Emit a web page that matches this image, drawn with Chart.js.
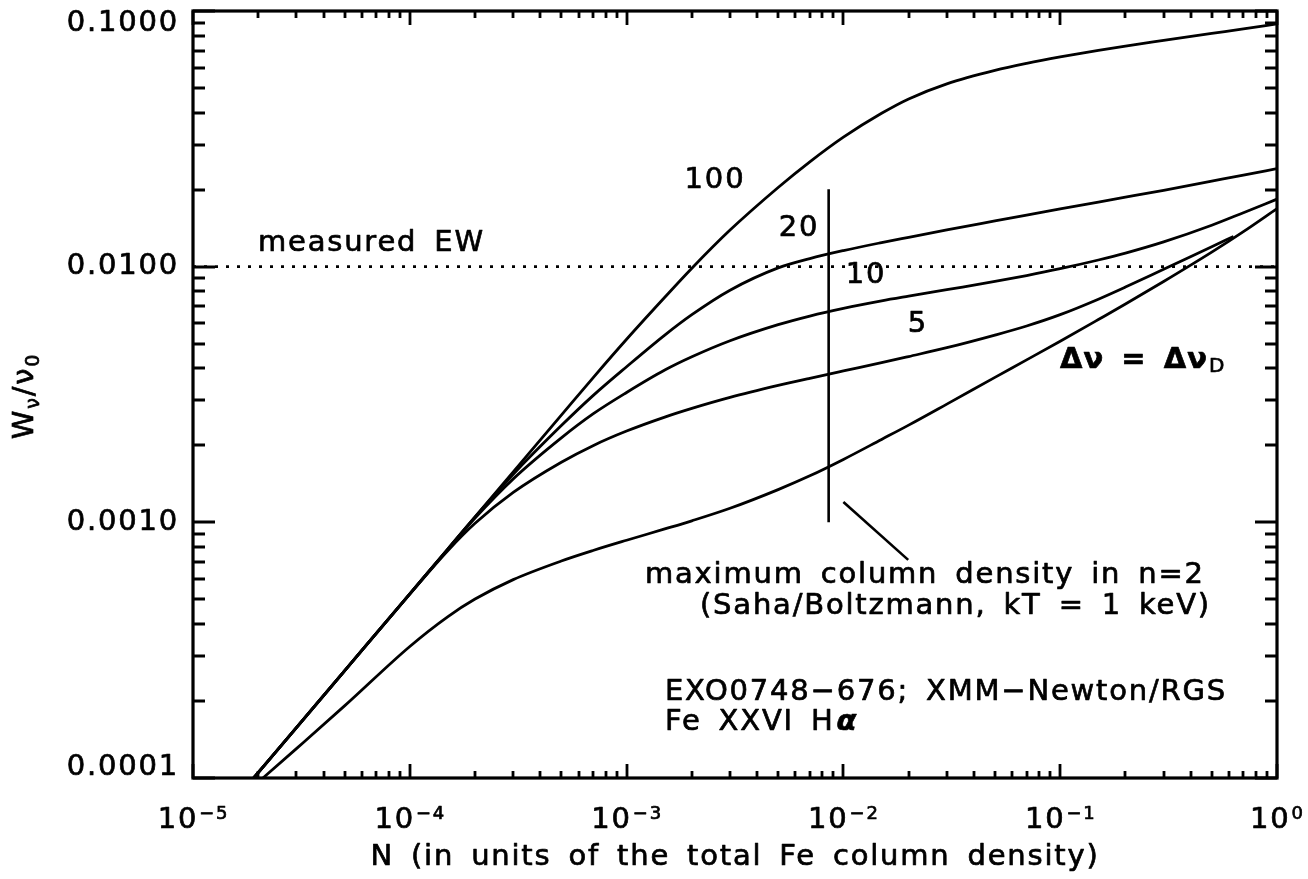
<!DOCTYPE html>
<html>
<head>
<meta charset="utf-8">
<script src="https://cdn.jsdelivr.net/npm/chart.js@4.4.0/dist/chart.umd.min.js"></script>
<style>
html, body { margin: 0; padding: 0; background: #fff; }
#wrap { width: 1308px; height: 879px; }
</style>
</head>
<body>
<div id="wrap"><canvas id="cog" width="1308" height="879"></canvas></div>
<script>
// column density N (units of the total Fe column density)
const nGrid = [1.9e-5, 3e-5, 5e-5, 1e-4, 1.5e-4, 2e-4, 3e-4, 5e-4, 7e-4, 1e-3, 1.5e-3, 2e-3, 3e-3, 5e-3, 7e-3,
  1e-2, 1.5e-2, 2e-2, 3e-2, 5e-2, 7e-2, 0.1, 0.15, 0.2, 0.3, 0.5, 0.7, 1.0];

// equivalent width W/nu0, one curve per line width (100, 20, 10, 5 and pure Doppler)
const w100 = [9.98e-5, 1.575e-4, 2.625e-4, 5.25e-4, 7.88e-4, 1.05e-3, 1.575e-3, 2.625e-3, 3.675e-3, 5.2e-3,
  7.59e-3, 9.86e-3, 1.39e-2, 2.04e-2, 2.57e-2, 3.21e-2, 3.98e-2, 4.53e-2, 5.19e-2, 5.86e-2, 6.24e-2, 6.61e-2,
  7.01e-2, 7.29e-2, 7.67e-2, 8.17e-2, 8.51e-2, 8.91e-2];
const w20 = [9.98e-5, 1.575e-4, 2.625e-4, 5.25e-4, 7.88e-4, 1.05e-3, 1.542e-3, 2.39e-3, 3.13e-3, 4.06e-3,
  5.40e-3, 6.49e-3, 8.09e-3, 9.89e-3, 1.076e-2, 1.156e-2, 1.242e-2, 1.303e-2, 1.393e-2, 1.51e-2, 1.592e-2,
  1.683e-2, 1.79e-2, 1.87e-2, 1.99e-2, 2.16e-2, 2.28e-2, 2.42e-2];
const w10 = [9.98e-5, 1.575e-4, 2.625e-4, 5.25e-4, 7.86e-4, 1.04e-3, 1.479e-3, 2.14e-3, 2.655e-3, 3.22e-3,
  3.94e-3, 4.44e-3, 5.13e-3, 5.93e-3, 6.41e-3, 6.87e-3, 7.35e-3, 7.67e-3, 8.13e-3, 8.75e-3, 9.23e-3,
  9.82e-3, 1.062e-2, 1.13e-2, 1.25e-2, 1.452e-2, 1.626e-2, 1.837e-2];
const n5 = [1.9e-5, 3e-5, 5e-5, 1e-4, 1.5e-4, 2e-4, 3e-4, 5e-4, 7e-4, 1e-3, 1.5e-3, 2e-3, 3e-3, 5e-3, 7e-3,
  1e-2, 1.5e-2, 2e-2, 3e-2, 5e-2, 7e-2, 0.1, 0.15, 0.2, 0.3, 0.5, 0.63];
const w5 = [9.98e-5, 1.575e-4, 2.625e-4, 5.24e-4, 7.76e-4, 9.91e-4, 1.309e-3, 1.718e-3, 1.995e-3, 2.275e-3,
  2.58e-3, 2.79e-3, 3.08e-3, 3.43e-3, 3.66e-3, 3.91e-3, 4.21e-3, 4.45e-3, 4.82e-3, 5.40e-3, 5.86e-3,
  6.49e-3, 7.46e-3, 8.32e-3, 9.77e-3, 1.197e-2, 1.312e-2];
const wDoppler = [9.27e-5, 1.303e-4, 1.914e-4, 3.27e-4, 4.28e-4, 5.01e-4, 5.97e-4, 7.06e-4, 7.76e-4, 8.51e-4,
  9.42e-4, 1.014e-3, 1.135e-3, 1.343e-3, 1.52e-3, 1.762e-3, 2.11e-3, 2.40e-3, 2.90e-3, 3.69e-3, 4.32e-3,
  5.11e-3, 6.21e-3, 7.14e-3, 8.75e-3, 1.14e-2, 1.371e-2, 1.687e-2];

const measuredEW = 0.01;
const nRange = [1e-5, 1];
const wRange = [1e-4, 0.1];
// Saha/Boltzmann limit for n=2 and the leader line to its caption
const nMaxN2 = 0.00855;
const nMaxN2W = [0.001, 0.0201];
const leaderN = [0.0100, 0.0199];
const leaderW = [0.0012, 0.000713];

const xTickVals = [1e-5, 1e-4, 1e-3, 1e-2, 1e-1, 1];
const xTickExp = ['\u22125', '\u22124', '\u22123', '\u22122', '\u22121', '0'];
const yTickVals = [1e-4, 1e-3, 1e-2, 1e-1];
const yTickText = ['0.0001', '0.0010', '0.0100', '0.1000'];

function pts(xs, ys) {
  return xs.map((v, i) => ({x: v, y: ys[i]}));
}

const FONT = '"DejaVu Sans", sans-serif';

function curve(xs, ys) {
  return {
    data: pts(xs, ys),
    borderColor: '#000',
    borderWidth: 2.8,
    pointRadius: 0,
    showLine: true,
    fill: false,
    cubicInterpolationMode: 'monotone'
  };
}

function segment(xs, ys, dash) {
  return {
    data: pts(xs, ys),
    borderColor: '#000',
    borderWidth: 2.6,
    borderDash: dash || [],
    pointRadius: 0,
    showLine: true,
    fill: false,
    tension: 0
  };
}

// text with a thin outline so it reads as heavy as the plotted font
function txt(ctx, s, x, y) {
  ctx.fillText(s, x, y);
  ctx.strokeText(s, x, y);
}

// frame, inward ticks, tick labels, titles and annotations
const decorations = {
  id: 'decorations',
  afterDraw(chart) {
    const ctx = chart.ctx;
    const a = chart.chartArea;
    const xs = chart.scales.x, ys = chart.scales.y;
    ctx.save();
    ctx.strokeStyle = '#000';
    ctx.fillStyle = '#000';
    ctx.lineCap = 'butt';

    // ticks
    ctx.lineWidth = 2.8;
    ctx.beginPath();
    for (let d = -5; d <= 0; d++) {
      for (let m = 1; m <= 9; m++) {
        const v = m * Math.pow(10, d);
        if (v > nRange[1] * 1.0001) break;
        const px = Math.round(xs.getPixelForValue(v));
        const len = m === 1 ? 14 : 7;
        ctx.moveTo(px, a.bottom); ctx.lineTo(px, a.bottom - len);
        ctx.moveTo(px, a.top); ctx.lineTo(px, a.top + len);
      }
    }
    for (let d = -4; d <= -1; d++) {
      for (let m = 1; m <= 9; m++) {
        const v = m * Math.pow(10, d);
        if (v > wRange[1] * 1.0001) break;
        const py = Math.round(ys.getPixelForValue(v));
        const len = m === 1 ? 22 : 12;
        ctx.moveTo(a.left, py); ctx.lineTo(a.left + len, py);
        ctx.moveTo(a.right, py); ctx.lineTo(a.right - len, py);
      }
    }
    ctx.stroke();

    ctx.lineWidth = 3.2;
    ctx.strokeRect(a.left, a.top, a.right - a.left, a.bottom - a.top);

    ctx.lineWidth = 0.7;
    ctx.lineJoin = 'round';
    ctx.letterSpacing = '1.8px';
    ctx.wordSpacing = '6px';

    // y tick labels
    ctx.font = '29px ' + FONT;
    ctx.textAlign = 'right';
    ctx.textBaseline = 'middle';
    yTickVals.forEach((v, i) => {
      let py = ys.getPixelForValue(v);
      py = Math.min(Math.max(py, a.top + 12), a.bottom - 11);
      txt(ctx, yTickText[i], a.left - 14, py);
    });

    // x tick labels: 10 with superscript exponent
    ctx.textAlign = 'left';
    ctx.textBaseline = 'alphabetic';
    xTickVals.forEach((v, i) => {
      const px = xs.getPixelForValue(v);
      ctx.font = '29px ' + FONT;
      const wBase = ctx.measureText('10').width;
      ctx.font = '18px ' + FONT;
      const wExp = ctx.measureText(xTickExp[i]).width;
      const x0 = px - (wBase + wExp) / 2;
      ctx.font = '29px ' + FONT;
      txt(ctx, '10', x0, a.bottom + 50);
      ctx.font = '18px ' + FONT;
      txt(ctx, xTickExp[i], x0 + wBase + 1, a.bottom + 41);
    });

    // x title
    ctx.font = '29px ' + FONT;
    ctx.textAlign = 'center';
    ctx.textBaseline = 'middle';
    txt(ctx, 'N (in units of the total Fe column density)', (a.left + a.right) / 2, 857);

    // y title W_nu / nu_0
    ctx.save();
    ctx.translate(33, 396);
    ctx.rotate(-Math.PI / 2);
    ctx.textAlign = 'left';
    ctx.textBaseline = 'alphabetic';
    const parts = [['W', 29, 0], ['\u03bd', 19, 6], ['/', 29, 0], ['\u03bd', 29, 0], ['0', 19, 6]];
    let total = 0;
    parts.forEach(p => { ctx.font = p[1] + 'px ' + FONT; total += ctx.measureText(p[0]).width; });
    let cx = -total / 2;
    parts.forEach(p => {
      ctx.font = p[1] + 'px ' + FONT;
      txt(ctx, p[0], cx, p[2]);
      cx += ctx.measureText(p[0]).width;
    });
    ctx.restore();

    // curve labels and notes
    ctx.font = '29px ' + FONT;
    ctx.textAlign = 'center';
    ctx.textBaseline = 'middle';
    txt(ctx, '100', 715, 180);
    txt(ctx, '20', 799, 228);
    txt(ctx, '10', 866, 275);
    txt(ctx, '5', 918, 324);

    ctx.textAlign = 'left';
    txt(ctx, 'measured EW', 258, 243);
    txt(ctx, 'maximum column density in n=2', 645, 575);
    txt(ctx, '(Saha/Boltzmann, kT = 1 keV)', 700, 606);
    txt(ctx, 'EXO0748\u2212676; XMM\u2212Newton/RGS', 665, 692);
    txt(ctx, 'Fe XXVI H', 665, 722);
    const wFe = ctx.measureText('Fe XXVI H').width;
    ctx.font = 'italic bold 29px ' + FONT;
    txt(ctx, '\u03b1', 665 + wFe + 2, 722);

    ctx.font = 'bold 29px ' + FONT;
    ctx.letterSpacing = '1px';
    txt(ctx, '\u0394\u03bd = \u0394\u03bd', 1060, 360);
    const wDv = ctx.measureText('\u0394\u03bd = \u0394\u03bd').width;
    ctx.font = '20px ' + FONT;
    txt(ctx, 'D', 1060 + wDv + 1, 367);

    ctx.restore();
  }
};

new Chart(document.getElementById('cog'), {
  type: 'scatter',
  data: {
    datasets: [
      curve(nGrid, w100),
      curve(nGrid, w20),
      curve(nGrid, w10),
      curve(n5, w5),
      curve(nGrid, wDoppler),
      segment(nRange, [measuredEW, measuredEW], [3, 8]),
      segment([nMaxN2, nMaxN2], nMaxN2W),
      segment(leaderN, leaderW)
    ]
  },
  options: {
    responsive: false,
    animation: false,
    devicePixelRatio: 1,
    layout: { padding: { left: 193, top: 11, right: 31, bottom: 101 } },
    plugins: { legend: { display: false }, tooltip: { enabled: false } },
    scales: {
      x: { type: 'logarithmic', min: nRange[0], max: nRange[1], display: false },
      y: { type: 'logarithmic', min: wRange[0], max: wRange[1], display: false }
    }
  },
  plugins: [decorations]
});
</script>
</body>
</html>
